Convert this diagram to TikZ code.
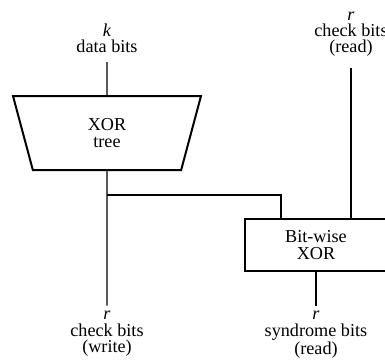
\documentclass[tikz,border=0pt]{standalone}
\usepackage{fontspec}
\setmainfont{Liberation Serif}
\usetikzlibrary{shapes.geometric}
\begin{document}
\begin{tikzpicture}[x=0.55pt,y=-0.55pt,font=\fontsize{10}{9}\selectfont,
  wire/.style={line width=0.7pt},
  sig/.style={align=center,inner sep=0pt},
  blk/.style={draw,line width=1.1pt,align=center}]
\useasboundingbox (0,0) rectangle (385,361);
% blocks
\node[blk,trapezium,trapezium angle=64,trapezium stretches body,shape border rotate=180,
  minimum width=103.4pt,minimum height=40.7pt] (tree) at (107,133) {XOR\\tree};
\node[blk,minimum width=78.1pt,minimum height=28.6pt] (bxor) at (316,245) {Bit-wise\\XOR};
% signal labels
\node[sig,anchor=south] (kin) at (107,53) {\textit{k}\\data bits};
\node[sig,anchor=south] (rin) at (351,57) {\textit{r}\\check bits\\(read)};
\node[sig,anchor=north] (cout) at (107,311) {\textit{r}\\check bits\\(write)};
\node[sig,anchor=north] (sout) at (316,311) {\textit{r}\\syndrome bits\\(read)};
\coordinate (tap) at (107,195);
\coordinate (tapend) at (281,195);
% wires
\draw[wire,shorten <=5pt] (kin) -- (tree);
\draw[wire,shorten <=6pt] (rin.south) -- (rin.south |- bxor.north);
\draw[wire,shorten >=3pt] (tree.south) -- (cout.north);
\draw[wire] (tap) -- (tapend) -- (tapend |- bxor.north);
\draw[wire,shorten >=3pt] (bxor) -- (sout);
\end{tikzpicture}
\end{document}
